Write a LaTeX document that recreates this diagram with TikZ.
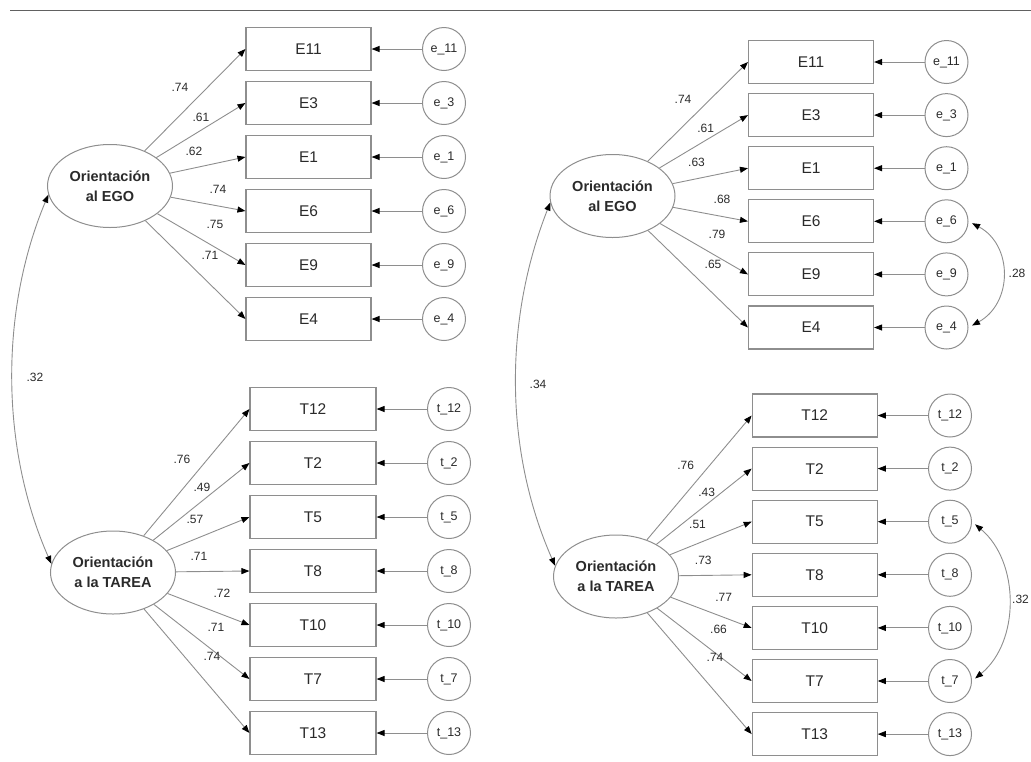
\documentclass[tikz,border=0pt]{standalone}
\usepackage{fontspec}
\setmainfont{Liberation Sans}
\usetikzlibrary{positioning,arrows.meta,shapes.geometric}

\definecolor{linea}{HTML}{8E8E8E}
\definecolor{testo}{HTML}{2A2A2A}

\begin{document}
\begin{tikzpicture}[
    x=1pt, y=-1pt,
    node distance=54pt,
    item/.style={
        rectangle,
        draw=linea,
        line width=1.1pt,
        minimum width=125pt,
        minimum height=43pt,
        inner sep=0pt,
        text=testo,
        font=\fontsize{15.5}{18}\selectfont
    },
    errore/.style={
        circle,
        draw=linea,
        line width=1pt,
        minimum size=43pt,
        inner sep=0pt,
        text=testo,
        font=\fontsize{12.5}{14}\selectfont
    },
    fattore/.style={
        ellipse,
        draw=linea,
        line width=1pt,
        minimum width=125pt,
        minimum height=83pt,
        inner sep=0pt,
        align=center,
        text=testo,
        font=\fontsize{14.5}{20}\selectfont\bfseries
    },
    carico/.style={
        draw=linea,
        line width=0.9pt,
        -{Triangle[length=8pt,width=6pt,color=black]}
    },
    corr/.style={
        draw=linea,
        line width=0.9pt,
        {Triangle[length=8pt,width=6pt,color=black]}-{Triangle[length=8pt,width=6pt,color=black]}
    },
    peso/.style={
        inner sep=0pt,
        text=testo,
        font=\fontsize{12}{14}\selectfont
    }
]
\useasboundingbox (0,0) rectangle (1031,761);

% Linea superiore
\coordinate (lineaA) at (10,10.5);
\coordinate (lineaB) at (1031,10.5);
\draw[line width=1.6pt, color=black!62] (lineaA) -- (lineaB);

% ---------- Modello sinistro ----------
% Fattori
\node[fattore] (egoA) at (110,186) {Orientación\\al EGO};
\node[fattore] (tareaA) at (113,572.5) {Orientación\\a la TAREA};

% Indicatori EGO
\node[item] (E11a) at (308.5,49) {E11};
\node[item, below of=E11a] (E3a) {E3};
\node[item, below of=E3a] (E1a) {E1};
\node[item, below of=E1a] (E6a) {E6};
\node[item, below of=E6a] (E9a) {E9};
\node[item, below of=E9a] (E4a) {E4};

% Indicatori TAREA
\node[item, minimum width=126pt] (T12a) at (313,409) {T12};
\node[item, minimum width=126pt, below of=T12a] (T2a) {T2};
\node[item, minimum width=126pt, below of=T2a] (T5a) {T5};
\node[item, minimum width=126pt, below of=T5a] (T8a) {T8};
\node[item, minimum width=126pt, below of=T8a] (T10a) {T10};
\node[item, minimum width=126pt, below of=T10a] (T7a) {T7};
\node[item, minimum width=126pt, below of=T7a] (T13a) {T13};

% Errori
\node[errore, right of=E11a, node distance=135.5pt] (errE11a) {e\_11};
\node[errore, right of=E3a, node distance=135.5pt] (errE3a) {e\_3};
\node[errore, right of=E1a, node distance=135.5pt] (errE1a) {e\_1};
\node[errore, right of=E6a, node distance=135.5pt] (errE6a) {e\_6};
\node[errore, right of=E9a, node distance=135.5pt] (errE9a) {e\_9};
\node[errore, right of=E4a, node distance=135.5pt] (errE4a) {e\_4};
\node[errore, right of=T12a, node distance=136pt] (errT12a) {t\_12};
\node[errore, right of=T2a, node distance=136pt] (errT2a) {t\_2};
\node[errore, right of=T5a, node distance=136pt] (errT5a) {t\_5};
\node[errore, right of=T8a, node distance=136pt] (errT8a) {t\_8};
\node[errore, right of=T10a, node distance=136pt] (errT10a) {t\_10};
\node[errore, right of=T7a, node distance=136pt] (errT7a) {t\_7};
\node[errore, right of=T13a, node distance=136pt] (errT13a) {t\_13};

% Frecce
\draw[carico] (egoA) -- (E11a.west);
\draw[carico] (egoA) -- (E3a.west);
\draw[carico] (egoA) -- (E1a.west);
\draw[carico] (egoA) -- (E6a.west);
\draw[carico] (egoA) -- (E9a.west);
\draw[carico] (egoA) -- (E4a.west);
\draw[carico] (tareaA) -- (T12a.west);
\draw[carico] (tareaA) -- (T2a.west);
\draw[carico] (tareaA) -- (T5a.west);
\draw[carico] (tareaA) -- (T8a.west);
\draw[carico] (tareaA) -- (T10a.west);
\draw[carico] (tareaA) -- (T7a.west);
\draw[carico] (tareaA) -- (T13a.west);

\draw[carico] (errE11a) -- (E11a);
\draw[carico] (errE3a) -- (E3a);
\draw[carico] (errE1a) -- (E1a);
\draw[carico] (errE6a) -- (E6a);
\draw[carico] (errE9a) -- (E9a);
\draw[carico] (errE4a) -- (E4a);
\draw[carico] (errT12a) -- (T12a);
\draw[carico] (errT2a) -- (T2a);
\draw[carico] (errT5a) -- (T5a);
\draw[carico] (errT8a) -- (T8a);
\draw[carico] (errT10a) -- (T10a);
\draw[carico] (errT7a) -- (T7a);
\draw[carico] (errT13a) -- (T13a);

\draw[corr] (egoA.188) .. controls (0,310) and (0,447) .. (tareaA.172);

% Saturazioni
\node[peso] (sE11a) at (180,87) {.74};
\node[peso] (sE3a) at (201,117) {.61};
\node[peso] (sE1a) at (194,151) {.62};
\node[peso] (sE6a) at (218,189) {.74};
\node[peso] (sE9a) at (215,224) {.75};
\node[peso] (sE4a) at (210,255) {.71};
\node[peso] (sT12a) at (182,459) {.76};
\node[peso] (sT2a) at (202,487) {.49};
\node[peso] (sT5a) at (195,519) {.57};
\node[peso] (sT8a) at (199,556) {.71};
\node[peso] (sT10a) at (222,593) {.72};
\node[peso] (sT7a) at (216,627) {.71};
\node[peso] (sT13a) at (212,656) {.74};
\node[peso] (rA) at (35,377) {.32};

% ---------- Modello destro ----------
\begin{scope}[node distance=53.1pt]
% Fattori
\node[fattore] (egoB) at (612.5,196) {Orientación\\al EGO};
\node[fattore] (tareaB) at (616,576.5) {Orientación\\a la TAREA};

% Indicatori EGO
\node[item] (E11b) at (811,62) {E11};
\node[item, below of=E11b] (E3b) {E3};
\node[item, below of=E3b] (E1b) {E1};
\node[item, below of=E1b] (E6b) {E6};
\node[item, below of=E6b] (E9b) {E9};
\node[item, below of=E9b] (E4b) {E4};

% Indicatori TAREA
\node[item] (T12b) at (814.7,415.5) {T12};
\node[item, below of=T12b] (T2b) {T2};
\node[item, below of=T2b] (T5b) {T5};
\node[item, below of=T5b] (T8b) {T8};
\node[item, below of=T8b] (T10b) {T10};
\node[item, below of=T10b] (T7b) {T7};
\node[item, below of=T7b] (T13b) {T13};

% Errori
\node[errore, right of=E11b, node distance=135.5pt] (errE11b) {e\_11};
\node[errore, right of=E3b, node distance=135.5pt] (errE3b) {e\_3};
\node[errore, right of=E1b, node distance=135.5pt] (errE1b) {e\_1};
\node[errore, right of=E6b, node distance=135.5pt] (errE6b) {e\_6};
\node[errore, right of=E9b, node distance=135.5pt] (errE9b) {e\_9};
\node[errore, right of=E4b, node distance=135.5pt] (errE4b) {e\_4};
\node[errore, right of=T12b, node distance=135.3pt] (errT12b) {t\_12};
\node[errore, right of=T2b, node distance=135.3pt] (errT2b) {t\_2};
\node[errore, right of=T5b, node distance=135.3pt] (errT5b) {t\_5};
\node[errore, right of=T8b, node distance=135.3pt] (errT8b) {t\_8};
\node[errore, right of=T10b, node distance=135.3pt] (errT10b) {t\_10};
\node[errore, right of=T7b, node distance=135.3pt] (errT7b) {t\_7};
\node[errore, right of=T13b, node distance=135.3pt] (errT13b) {t\_13};
\end{scope}

% Frecce
\draw[carico] (egoB) -- (E11b.west);
\draw[carico] (egoB) -- (E3b.west);
\draw[carico] (egoB) -- (E1b.west);
\draw[carico] (egoB) -- (E6b.west);
\draw[carico] (egoB) -- (E9b.west);
\draw[carico] (egoB) -- (E4b.west);
\draw[carico] (tareaB) -- (T12b.west);
\draw[carico] (tareaB) -- (T2b.west);
\draw[carico] (tareaB) -- (T5b.west);
\draw[carico] (tareaB) -- (T8b.west);
\draw[carico] (tareaB) -- (T10b.west);
\draw[carico] (tareaB) -- (T7b.west);
\draw[carico] (tareaB) -- (T13b.west);

\draw[carico] (errE11b) -- (E11b);
\draw[carico] (errE3b) -- (E3b);
\draw[carico] (errE1b) -- (E1b);
\draw[carico] (errE6b) -- (E6b);
\draw[carico] (errE9b) -- (E9b);
\draw[carico] (errE4b) -- (E4b);
\draw[carico] (errT12b) -- (T12b);
\draw[carico] (errT2b) -- (T2b);
\draw[carico] (errT5b) -- (T5b);
\draw[carico] (errT8b) -- (T8b);
\draw[carico] (errT10b) -- (T10b);
\draw[carico] (errT7b) -- (T7b);
\draw[carico] (errT13b) -- (T13b);

\draw[corr] (egoB.186) .. controls (504,320) and (504,450) .. (tareaB.170);
\draw[corr, shorten <=4pt, shorten >=4pt] (errE6b.east) .. controls (1013,245) and (1013,303) .. (errE4b.east);
\draw[corr, shorten <=4pt, shorten >=4pt] (errT5b.east) .. controls (1020,562) and (1020,642) .. (errT7b.east);

% Saturazioni
\node[peso] (sE11b) at (683,99) {.74};
\node[peso] (sE3b) at (705.6,128) {.61};
\node[peso] (sE1b) at (696.5,162) {.63};
\node[peso] (sE6b) at (722,199) {.68};
\node[peso] (sE9b) at (717,234) {.79};
\node[peso] (sE4b) at (713,264) {.65};
\node[peso] (sT12b) at (685.7,465) {.76};
\node[peso] (sT2b) at (706.7,492) {.43};
\node[peso] (sT5b) at (697.5,524) {.51};
\node[peso] (sT8b) at (703.3,560) {.73};
\node[peso] (sT10b) at (723.6,597) {.77};
\node[peso] (sT7b) at (718.5,629) {.66};
\node[peso] (sT13b) at (715,657) {.74};
\node[peso] (rB) at (538,384) {.34};
\node[peso] (rE) at (1017,273) {.28};
\node[peso] (rT) at (1020.5,599) {.32};

\end{tikzpicture}
\end{document}
